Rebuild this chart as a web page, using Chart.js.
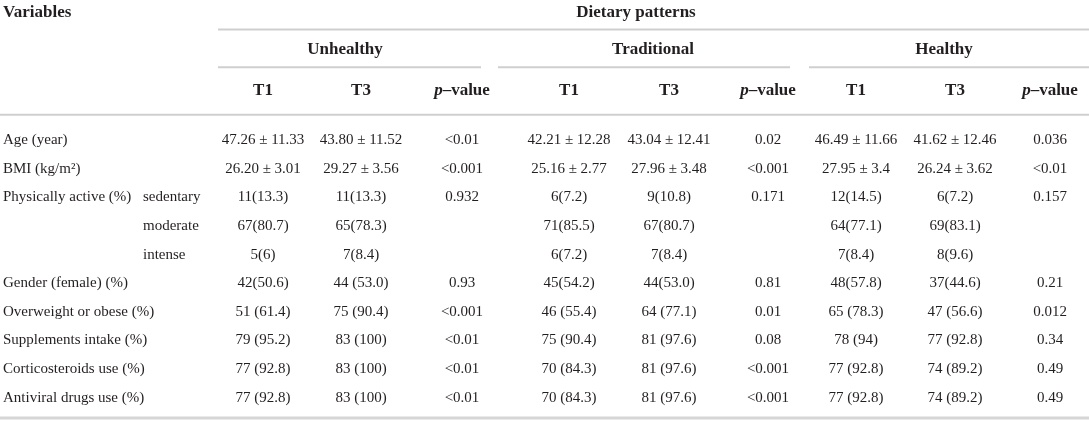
<!DOCTYPE html>
<html>
<head>
<meta charset="utf-8">
<script src="https://cdn.jsdelivr.net/npm/chart.js@4.4.1/dist/chart.umd.min.js"></script>
<style>
html, body { margin: 0; padding: 0; background: #fff; }
canvas { display: block; }
</style>
</head>
<body>
<canvas id="table" width="1089" height="426"></canvas>
<script>
// Row labels
const variables = ['Age (year)', 'BMI (kg/m²)', 'Physically active (%)', '', '', 'Gender (female) (%)',
    'Overweight or obese (%)', 'Supplements intake (%)', 'Corticosteroids use (%)', 'Antiviral drugs use (%)'];
const levels = ['', '', 'sedentary', 'moderate', 'intense', '', '', '', '', ''];

// Headers
const title = 'Dietary patterns';
const groups = ['Unhealthy', 'Traditional', 'Healthy'];
const subHeads = ['T1', 'T3', 'p–value'];

// Cells, one array per column
const unhealthyT1 = ['47.26 ± 11.33', '26.20 ± 3.01', '11(13.3)', '67(80.7)', '5(6)', '42(50.6)', '51 (61.4)', '79 (95.2)', '77 (92.8)', '77 (92.8)'];
const unhealthyT3 = ['43.80 ± 11.52', '29.27 ± 3.56', '11(13.3)', '65(78.3)', '7(8.4)', '44 (53.0)', '75 (90.4)', '83 (100)', '83 (100)', '83 (100)'];
const unhealthyP = ['<0.01', '<0.001', '0.932', '', '', '0.93', '<0.001', '<0.01', '<0.01', '<0.01'];
const traditionalT1 = ['42.21 ± 12.28', '25.16 ± 2.77', '6(7.2)', '71(85.5)', '6(7.2)', '45(54.2)', '46 (55.4)', '75 (90.4)', '70 (84.3)', '70 (84.3)'];
const traditionalT3 = ['43.04 ± 12.41', '27.96 ± 3.48', '9(10.8)', '67(80.7)', '7(8.4)', '44(53.0)', '64 (77.1)', '81 (97.6)', '81 (97.6)', '81 (97.6)'];
const traditionalP = ['0.02', '<0.001', '0.171', '', '', '0.81', '0.01', '0.08', '<0.001', '<0.001'];
const healthyT1 = ['46.49 ± 11.66', '27.95 ± 3.4', '12(14.5)', '64(77.1)', '7(8.4)', '48(57.8)', '65 (78.3)', '78 (94)', '77 (92.8)', '77 (92.8)'];
const healthyT3 = ['41.62 ± 12.46', '26.24 ± 3.62', '6(7.2)', '69(83.1)', '8(9.6)', '37(44.6)', '47 (56.6)', '77 (92.8)', '74 (89.2)', '74 (89.2)'];
const healthyP = ['0.036', '<0.01', '0.157', '', '', '0.21', '0.012', '0.34', '0.49', '0.49'];

const columns = [unhealthyT1, unhealthyT3, unhealthyP, traditionalT1, traditionalT3, traditionalP, healthyT1, healthyT3, healthyP];

// Layout in scale units: x runs over the page width, y counts body rows
const colX = [263, 361, 462, 569, 669, 768, 856, 955, 1050];
const groupSpan = [[218, 481], [498, 790], [809, 1089]];
const groupX = [345, 653, 944];
const titleX = 636;
const varX = 3, levelX = 143;
const yTitle = -4.45, yGroup = -3.14, ySub = -1.72;
const ruleTop = -3.86, ruleGroup = -2.54, ruleHead = -0.88, ruleBottom = 9.7;

const ink = '#231f20';
const serif = '"Liberation Serif", "DejaVu Serif", serif';
const headFont = 'bold 17px ' + serif;
const headItalic = 'italic bold 17px ' + serif;
const bodyFont = '15px ' + serif;

function drawPValue(ctx, x, y) {
    ctx.font = headItalic;
    const w1 = ctx.measureText('p').width;
    ctx.font = headFont;
    const w2 = ctx.measureText('–value').width;
    const left = x - (w1 + w2) / 2;
    ctx.textAlign = 'left';
    ctx.font = headItalic;
    ctx.fillText('p', left, y);
    ctx.font = headFont;
    ctx.fillText('–value', left + w1, y);
}

const tablePlugin = {
    id: 'tablePlugin',
    afterDatasetsDraw(chart) {
        const { ctx, scales: { x, y } } = chart;
        ctx.save();
        ctx.fillStyle = ink;
        ctx.textBaseline = 'middle';

        // rules
        const rule = (yv, x0, x1, w, c) => {
            ctx.strokeStyle = c;
            ctx.lineWidth = w;
            ctx.beginPath();
            ctx.moveTo(x.getPixelForValue(x0), y.getPixelForValue(yv));
            ctx.lineTo(x.getPixelForValue(x1), y.getPixelForValue(yv));
            ctx.stroke();
        };
        rule(ruleTop, groupSpan[0][0], 1089, 2, '#cfcfcf');
        groupSpan.forEach(s => rule(ruleGroup, s[0], s[1], 2, '#cfcfcf'));
        rule(ruleHead, 0, 1089, 2, '#cfcfcf');
        rule(ruleBottom, 0, 1089, 3, '#d6d6d6');

        // header text
        ctx.font = headFont;
        ctx.textAlign = 'left';
        ctx.fillText('Variables', x.getPixelForValue(varX), y.getPixelForValue(yTitle));
        ctx.textAlign = 'center';
        ctx.fillText(title, x.getPixelForValue(titleX), y.getPixelForValue(yTitle));
        groups.forEach((g, k) => {
            ctx.font = headFont;
            ctx.textAlign = 'center';
            ctx.fillText(g, x.getPixelForValue(groupX[k]), y.getPixelForValue(yGroup));
            subHeads.forEach((h, m) => {
                const cx = x.getPixelForValue(colX[k * 3 + m]);
                const cy = y.getPixelForValue(ySub);
                if (m === 2) {
                    drawPValue(ctx, cx, cy);
                } else {
                    ctx.font = headFont;
                    ctx.textAlign = 'center';
                    ctx.fillText(h, cx, cy);
                }
            });
        });

        // row labels
        ctx.font = bodyFont;
        ctx.textAlign = 'left';
        variables.forEach((v, i) => {
            ctx.fillText(v, x.getPixelForValue(varX), y.getPixelForValue(i));
            ctx.fillText(levels[i], x.getPixelForValue(levelX), y.getPixelForValue(i));
        });

        // cells at the points placed by the scales
        ctx.textAlign = 'center';
        chart.data.datasets.forEach((ds, d) => {
            chart.getDatasetMeta(d).data.forEach((pt, i) => {
                ctx.fillText(ds.cells[i], pt.x, pt.y);
            });
        });
        ctx.restore();
    }
};

new Chart(document.getElementById('table'), {
    type: 'scatter',
    data: {
        datasets: columns.map((col, j) => ({
            cells: col,
            data: col.map((_, i) => ({ x: colX[j], y: i })),
            pointRadius: 0,
            pointHoverRadius: 0
        }))
    },
    options: {
        responsive: false,
        animation: false,
        events: [],
        layout: { padding: 0 },
        plugins: { legend: { display: false }, tooltip: { enabled: false } },
        scales: {
            x: { type: 'linear', min: 0, max: 1089, display: false },
            y: { type: 'linear', min: -4.887, max: 9.983, reverse: true, display: false }
        }
    },
    plugins: [tablePlugin]
});
</script>
</body>
</html>
